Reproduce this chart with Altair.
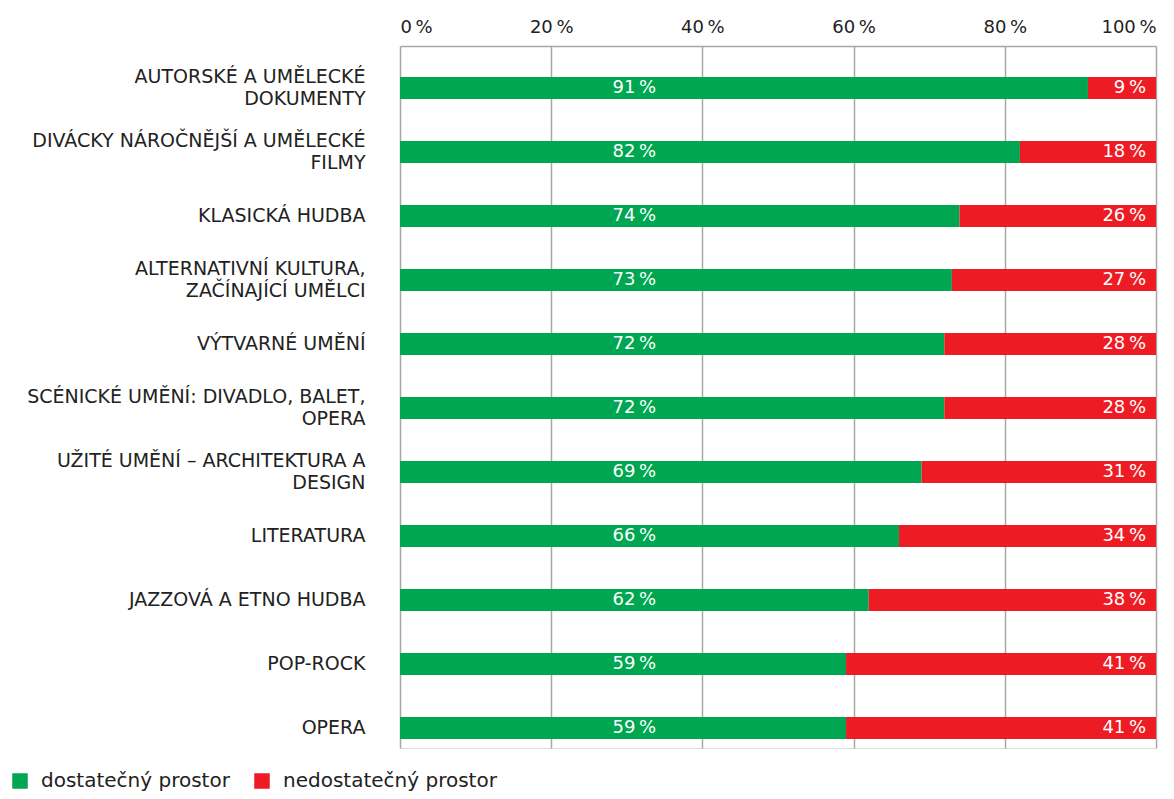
import altair as alt
import pandas as pd

categories = [
    "AUTORSKÉ A UMĚLECKÉ|DOKUMENTY",
    "DIVÁCKY NÁROČNĚJŠÍ A UMĚLECKÉ|FILMY",
    "KLASICKÁ HUDBA",
    "ALTERNATIVNÍ KULTURA,|ZAČÍNAJÍCÍ UMĚLCI",
    "VÝTVARNÉ UMĚNÍ",
    "SCÉNICKÉ UMĚNÍ: DIVADLO, BALET,|OPERA",
    "UŽITÉ UMĚNÍ – ARCHITEKTURA A|DESIGN",
    "LITERATURA",
    "JAZZOVÁ A ETNO HUDBA",
    "POP-ROCK",
    "OPERA",
]
enough = [91, 82, 74, 73, 72, 72, 69, 66, 62, 59, 59]
not_enough = [9, 18, 26, 27, 28, 28, 31, 34, 38, 41, 41]
series = ["dostatečný prostor", "nedostatečný prostor"]
colors = ["#00A651", "#ED1C24"]
x_ticks = [0, 20, 40, 60, 80, 100]

FONT = "DejaVu Sans"
TXT = "#222222"

rows = []
for i, c in enumerate(categories):
    rows.append({"cat": c, "id": i, "series": series[0], "order": 0,
                 "value": enough[i], "label": f"{enough[i]}\u2009%"})
    rows.append({"cat": c, "id": i, "series": series[1], "order": 1,
                 "value": not_enough[i], "label": f"{not_enough[i]}\u2009%"})
df = pd.DataFrame(rows)

y_enc = alt.Y(
    "cat:N",
    sort=categories,
    title=None,
    scale=alt.Scale(paddingInner=0.656, paddingOuter=0.3125, align=0.775),
    axis=alt.Axis(
        labelExpr="split(datum.label, '|')",
        labelFont=FONT, labelFontSize=19, labelColor=TXT,
        labelLineHeight=22, labelPadding=35, labelLimit=400,
        labelOffset=alt.condition("indexof(datum.value, '|') >= 0", alt.value(-11), alt.value(0)),
        ticks=False, domain=False, grid=False,
    ),
)

bars = alt.Chart(df).mark_bar(size=22).encode(
    x=alt.X(
        "value:Q",
        stack="zero",
        title=None,
        scale=alt.Scale(domain=[0, 100], nice=False),
        axis=alt.Axis(
            orient="top", values=x_ticks,
            labelExpr="datum.value + '\u2009%'",
            labelFont=FONT, labelFontSize=18, labelColor=TXT,
            labelPadding=10, ticks=False,
            domainColor="#a6a6a6", domainWidth=1.5,
            grid=True, gridColor="#a6a6a6", gridWidth=1.5,
        ),
    ),
    y=y_enc,
    color=alt.Color(
        "series:N",
        scale=alt.Scale(domain=series, range=colors),
        legend=alt.Legend(
            title=None, orient="none", direction="horizontal",
            legendX=-390, legendY=725,
            symbolType="square", symbolSize=240, symbolStrokeWidth=0,
            labelFont=FONT, labelFontSize=20, labelColor=TXT,
            labelLimit=400, columnPadding=22, labelOffset=11,
        ),
    ),
    order=alt.Order("order:Q"),
)

green_text = alt.Chart(df).transform_filter(
    alt.datum.order == 0
).mark_text(font=FONT, fontSize=18, color="white", align="center", baseline="middle").encode(
    x=alt.datum(31),
    y=alt.Y("cat:N", sort=categories),
    text="label:N",
)

red_text = alt.Chart(df).transform_filter(
    alt.datum.order == 1
).mark_text(font=FONT, fontSize=18, color="white", align="right", baseline="middle", dx=-10).encode(
    x=alt.datum(100),
    y=alt.Y("cat:N", sort=categories),
    text="label:N",
)

chart = alt.layer(bars, green_text, red_text).properties(
    width=756,
    height=702,
    autosize=alt.AutoSizeParams(type="none"),
    padding={"left": 392, "top": 38, "right": 10, "bottom": 43},
).configure_view(stroke=None).configure(background="white")

chart.save("out.html", embed_options={"renderer": "svg", "actions": False})
